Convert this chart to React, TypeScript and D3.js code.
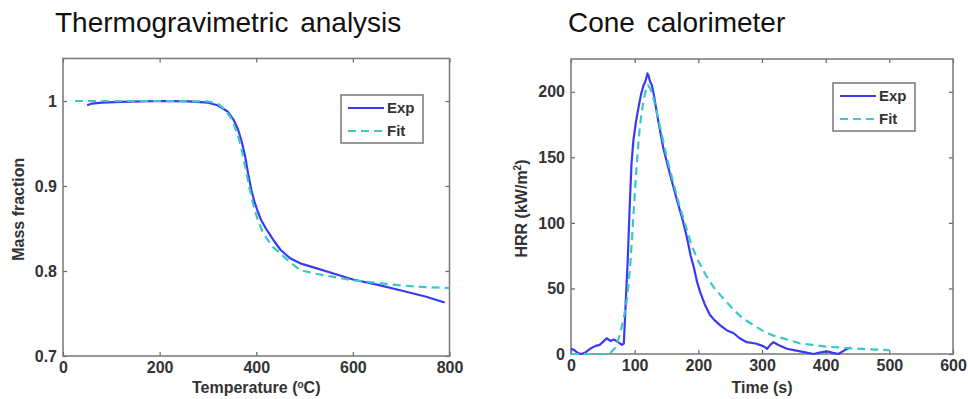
import React, { useEffect, useRef } from 'react';
import * as d3 from 'd3';

// TGA curves: temperature (°C) vs mass fraction
const tgaExpTemp = [50, 60, 80, 120, 200, 260, 300, 320, 340, 353, 362, 370, 377, 383, 390, 396, 402, 410, 420, 436, 450, 470, 491, 520, 560, 600, 650, 700, 750, 790];
const tgaExpMass = [0.995, 0.997, 0.998, 0.999, 1.0, 0.9995, 0.998, 0.995, 0.988, 0.978, 0.967, 0.952, 0.935, 0.915, 0.895, 0.882, 0.872, 0.86, 0.85, 0.836, 0.825, 0.815, 0.809, 0.804, 0.797, 0.79, 0.784, 0.777, 0.77, 0.763];
const tgaFitTemp = [25, 100, 200, 300, 320, 335, 350, 360, 368, 377, 385, 393, 402, 412, 422, 435, 457, 475, 491, 520, 560, 600, 650, 700, 750, 800];
const tgaFitMass = [1.0, 1.0, 1.0, 0.9995, 0.997, 0.99, 0.978, 0.963, 0.948, 0.923, 0.9, 0.88, 0.862, 0.848, 0.838, 0.828, 0.817, 0.808, 0.801, 0.797, 0.793, 0.789, 0.786, 0.783, 0.781, 0.78];

// Cone calorimeter curves: time (s) vs HRR (kW/m2)
const coneExpTime = [0, 5, 10, 15, 22, 30, 38, 45, 52, 56, 62, 68, 74, 80, 83, 86, 89, 92, 95, 98, 102, 106, 110, 114, 117, 120, 122, 124, 127, 130, 137, 145, 155, 166, 175, 182, 188, 193, 198, 203, 210, 218, 225, 234, 245, 255, 265, 276, 290, 302, 308, 313, 318, 325, 339, 350, 360, 370, 381, 390, 402, 410, 420, 430, 439];
const coneExpHrr = [4, 3, 1, 0, 1, 4, 6, 7, 10, 12, 10, 11, 9, 7, 8, 40, 70, 110, 145, 163, 177, 188, 198, 205, 208, 214, 212, 208, 205, 198, 178, 157, 138, 118, 103, 89, 75, 66, 55, 47, 38, 30, 26, 22, 18, 16, 12, 9, 8, 6, 4, 7, 9, 7, 4, 3, 2, 1, 0, 1, 2, 1, 0, 3, 5];
const coneFitTime = [0, 20, 40, 55, 62, 70, 77, 83, 88, 93, 98, 103, 108, 114, 118, 121, 125, 129, 134, 140, 150, 160, 170, 180, 190, 200, 212, 224, 240, 255, 270, 287, 300, 318, 340, 360, 380, 400, 420, 440, 470, 500];
const coneFitHrr = [0, 0, 0, 0, 1, 5, 15, 28, 42, 67, 105, 143, 173, 194, 202, 205, 202, 196, 186, 173, 151, 132, 114, 98, 82, 71, 60, 51, 42, 34, 27, 22, 18, 14, 11, 8, 7, 5.6, 5, 4.3, 3.6, 3];

const tgaXTicks = [0, 200, 400, 600, 800];
const tgaYTicks = [0.7, 0.8, 0.9, 1];
const coneXTicks = [0, 100, 200, 300, 400, 500, 600];
const coneYTicks = [0, 50, 100, 150, 200];
const seriesNames = ['Exp', 'Fit'];

const W = 968;
const H = 399;
const FONT = 'Liberation Sans, Arial, Helvetica, sans-serif';
const EXP_COLOR = '#3a3af2';
const FIT_COLOR = '#3cc8c8';

type Pt = [number, number];
const zip = (a: number[], b: number[]): Pt[] => a.map((v, i) => [v, b[i]]);

function drawPanel(svg: any, cfg: any) {
  const x = d3.scaleLinear().domain(cfg.xDomain).range(cfg.xRange);
  const y = d3.scaleLinear().domain(cfg.yDomain).range(cfg.yRange);
  const [x0, x1] = cfg.xRange;
  const [y0, y1] = cfg.yRange; // y0 bottom, y1 top

  svg.append('text')
    .attr('x', cfg.titleX)
    .attr('y', 32)
    .attr('font-family', FONT)
    .attr('font-size', 28)
    .attr('word-spacing', 4)
    .attr('fill', '#111')
    .text(cfg.title);

  // clip a bit wider than the box so lines at the limits stay visible
  const clipId = 'clip-' + cfg.id;
  svg.append('clipPath').attr('id', clipId)
    .append('rect')
    .attr('x', x0 - 2).attr('y', y1)
    .attr('width', x1 - x0 + 4).attr('height', y0 - y1 + 2);

  // bottom / left axes with inward ticks
  const bottom = svg.append('g')
    .attr('transform', `translate(0,${y0})`)
    .call(d3.axisBottom(x).tickValues(cfg.xTicks).tickSizeInner(-4).tickSizeOuter(0).tickPadding(6).tickFormat(d3.format('d')));
  const left = svg.append('g')
    .attr('transform', `translate(${x0},0)`)
    .call(d3.axisLeft(y).tickValues(cfg.yTicks).tickSizeInner(-4).tickSizeOuter(0).tickPadding(6).tickFormat(cfg.yFormat));
  const top = svg.append('g')
    .attr('transform', `translate(0,${y1})`)
    .call(d3.axisTop(x).tickValues(cfg.xTicks).tickSizeInner(-4).tickSizeOuter(0).tickFormat(() => ''));
  const right = svg.append('g')
    .attr('transform', `translate(${x1},0)`)
    .call(d3.axisRight(y).tickValues(cfg.yTicks).tickSizeInner(-4).tickSizeOuter(0).tickFormat(() => ''));

  [bottom, left, top, right].forEach((g) => {
    g.select('.domain').remove();
    g.selectAll('line').attr('stroke', '#666').attr('stroke-width', 1.2);
    g.selectAll('text')
      .attr('font-family', FONT)
      .attr('font-size', 16)
      .attr('font-weight', 'bold')
      .attr('fill', '#333');
  });

  // box
  svg.append('rect')
    .attr('x', x0).attr('y', y1)
    .attr('width', x1 - x0).attr('height', y0 - y1)
    .attr('fill', 'none')
    .attr('stroke', '#777')
    .attr('stroke-width', 1.5);

  // axis labels
  svg.append('text')
    .attr('x', (x0 + x1) / 2)
    .attr('y', 393)
    .attr('text-anchor', 'middle')
    .attr('font-family', FONT)
    .attr('font-size', 16)
    .attr('font-weight', 'bold')
    .attr('fill', '#333')
    .html(cfg.xLabel);
  svg.append('text')
    .attr('transform', `translate(${cfg.yLabelX},${(y0 + y1) / 2 + 2}) rotate(-90)`)
    .attr('text-anchor', 'middle')
    .attr('font-family', FONT)
    .attr('font-size', 16)
    .attr('font-weight', 'bold')
    .attr('fill', '#333')
    .html(cfg.yLabel);

  const line = d3.line<Pt>().x((d) => x(d[0])).y((d) => y(d[1])).curve(d3.curveLinear);
  const plot = svg.append('g').attr('clip-path', `url(#${clipId})`);
  plot.append('path')
    .datum(cfg.exp)
    .attr('d', line)
    .attr('fill', 'none')
    .attr('stroke', EXP_COLOR)
    .attr('stroke-width', 2.2)
    .attr('stroke-linejoin', 'round');
  plot.append('path')
    .datum(cfg.fit)
    .attr('d', line)
    .attr('fill', 'none')
    .attr('stroke', FIT_COLOR)
    .attr('stroke-width', 2.2)
    .attr('stroke-dasharray', '8,5');

  // legend
  const lg = svg.append('g').attr('transform', `translate(${cfg.legendX},${cfg.legendY})`);
  lg.append('rect')
    .attr('width', 82).attr('height', 48)
    .attr('fill', '#fff')
    .attr('stroke', '#777')
    .attr('stroke-width', 1.5);
  seriesNames.forEach((name, i) => {
    const ly = 13 + i * 23;
    lg.append('line')
      .attr('x1', 7).attr('x2', 43)
      .attr('y1', ly).attr('y2', ly)
      .attr('stroke', i === 0 ? EXP_COLOR : FIT_COLOR)
      .attr('stroke-width', 2.2)
      .attr('stroke-dasharray', i === 0 ? null : '8,5');
    lg.append('text')
      .attr('x', 46).attr('y', ly + 5)
      .attr('font-family', FONT)
      .attr('font-size', 15)
      .attr('font-weight', 'bold')
      .attr('fill', '#333')
      .text(name);
  });
}

const App = () => {
  const ref = useRef<SVGSVGElement>(null);

  useEffect(() => {
    const svg = d3.select(ref.current);
    svg.selectAll('*').remove();

    drawPanel(svg, {
      id: 'tga',
      title: 'Thermogravimetric analysis',
      titleX: 55,
      xDomain: [0, 800], xRange: [63, 449.5],
      yDomain: [0.7, 1.05], yRange: [356, 58.5],
      xTicks: tgaXTicks, yTicks: tgaYTicks,
      yFormat: (d: number) => (d === 1 ? '1' : d3.format('.1f')(d)),
      xLabel: 'Temperature (<tspan font-size="10" dy="-5">o</tspan><tspan dy="5">C)</tspan>',
      yLabel: 'Mass fraction',
      yLabelX: 24,
      exp: zip(tgaExpTemp, tgaExpMass),
      fit: zip(tgaFitTemp, tgaFitMass),
      legendX: 341, legendY: 95,
    });

    drawPanel(svg, {
      id: 'cone',
      title: 'Cone calorimeter',
      titleX: 568,
      xDomain: [0, 600], xRange: [571, 953],
      yDomain: [0, 225], yRange: [354, 59],
      xTicks: coneXTicks, yTicks: coneYTicks,
      yFormat: d3.format('d'),
      xLabel: 'Time (s)',
      yLabel: 'HRR (kW/m<tspan font-size="10" dy="-6">2</tspan><tspan dy="6">)</tspan>',
      yLabelX: 527,
      exp: zip(coneExpTime, coneExpHrr),
      fit: zip(coneFitTime, coneFitHrr),
      legendX: 833, legendY: 83,
    });
  }, []);

  return (
    <svg
      ref={ref}
      width={W}
      height={H}
      viewBox={`0 0 ${W} ${H}`}
      style={{ position: 'absolute', left: 0, top: 0, background: '#fff' }}
    />
  );
};

export default App;
